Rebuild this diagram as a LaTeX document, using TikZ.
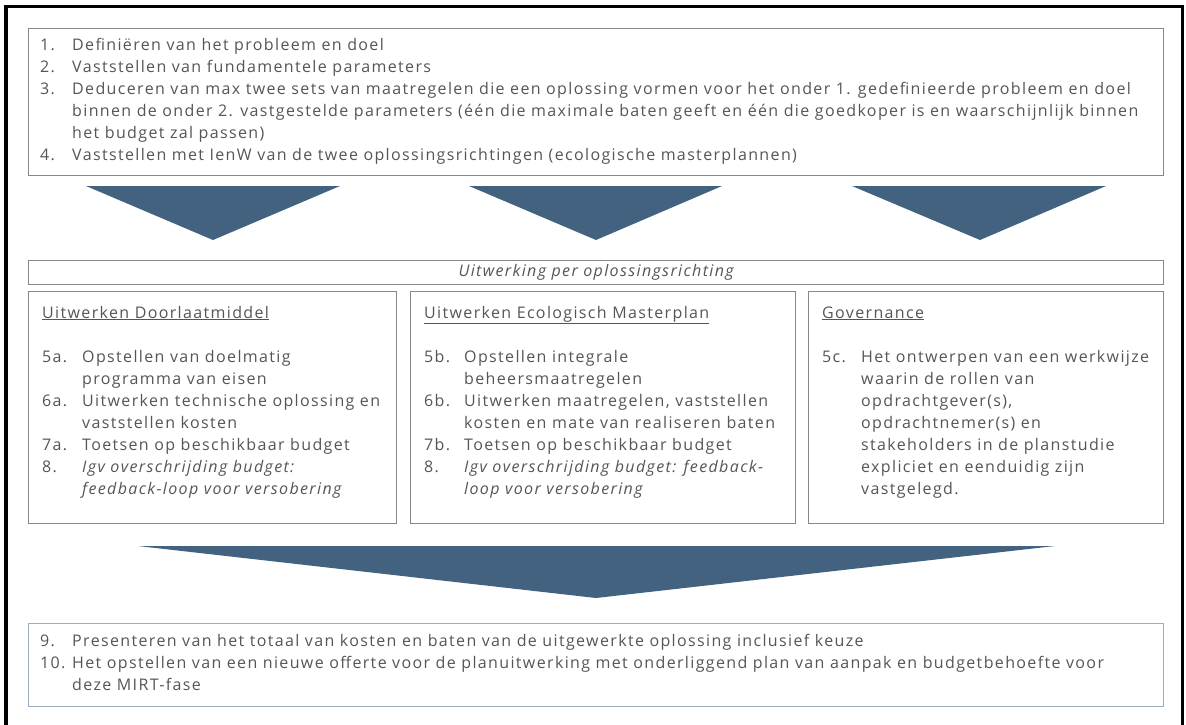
\documentclass[tikz,border=0pt]{standalone}
\usepackage{fontspec}
\setmainfont{Open Sans}[LetterSpace=8.5]
\usepackage{array}
\definecolor{txt}{HTML}{555555}
\definecolor{arr}{RGB}{66,98,128}
\definecolor{bord}{HTML}{888888}
\definecolor{bbord}{HTML}{9AAFC2}
\begin{document}
\begin{tikzpicture}[x=1pt,y=-1pt,
  box/.style={draw=bord, line width=1.3pt, anchor=north west, inner sep=0pt},
  bbox/.style={box, draw=bbord},
  txtnode/.style={anchor=base west, inner sep=0pt, text=txt, font=\fontsize{16}{22}\selectfont},
  chev/.style={fill=arr}]
\useasboundingbox (0,0) rectangle (1186,724);
\begin{scope}
\clip (0,0) rectangle (1186,724);
\draw[line width=3.5pt] (6,6.5) rectangle (1182.5,735);
\end{scope}
% top box
\node[box, minimum width=1135pt, minimum height=147pt] (top) at (28,28) {};
\node[txtnode] (toptext) at (40,50) {\begin{tabular}[t]{@{}p{32pt}@{}l@{}}
1. & Definiëren van het probleem en doel\\
2. & Vaststellen van fundamentele parameters\\
3. & Deduceren van max twee sets van maatregelen die een oplossing vormen voor het onder 1. gedefinieerde probleem en doel\\
 & binnen de onder 2. vastgestelde parameters (één die maximale baten geeft en één die goedkoper is en waarschijnlijk binnen\\
 & het budget zal passen)\\
4. & Vaststellen met IenW van de twee oplossingsrichtingen (ecologische masterplannen)
\end{tabular}};
% chevrons
\fill[chev] (86,186) -- (340,186) -- (213,240) -- cycle;
\fill[chev] (469,186) -- (722,186) -- (596,240) -- cycle;
\fill[chev] (852,186) -- (1106,186) -- (980,240) -- cycle;
% band
\node[box, minimum width=1135pt, minimum height=24pt] (band) at (28,260) {};
\node[anchor=center, inner sep=0pt, text=txt, font=\fontsize{16}{22}\selectfont\itshape] (bandtext) at (band.center) {Uitwerking per oplossingsrichting};
% three boxes
\node[box, minimum width=368pt, minimum height=232pt] (b1) at (28,291) {};
\node[box, minimum width=385pt, minimum height=232pt] (b2) at (410,291) {};
\node[box, minimum width=355pt, minimum height=232pt] (b3) at (808,291) {};
\node[txtnode] (t1) at (42,318) {\begin{tabular}[t]{@{}p{40pt}@{}l@{}}
\multicolumn{2}{@{}l@{}}{\underline{Uitwerken Doorlaatmiddel}}\\
 & \\
5a. & Opstellen van doelmatig\\
 & programma van eisen\\
6a. & Uitwerken technische oplossing en\\
 & vaststellen kosten\\
7a. & Toetsen op beschikbaar budget\\
8. & \textit{Igv overschrijding budget:}\\
 & \textit{feedback-loop voor versobering}
\end{tabular}};
\node[txtnode] (t2) at (424,318) {\begin{tabular}[t]{@{}p{40pt}@{}l@{}}
\multicolumn{2}{@{}l@{}}{\underline{Uitwerken Ecologisch Masterplan}}\\
 & \\
5b. & Opstellen integrale\\
 & beheersmaatregelen\\
6b. & Uitwerken maatregelen, vaststellen\\
 & kosten en mate van realiseren baten\\
7b. & Toetsen op beschikbaar budget\\
8. & \textit{Igv overschrijding budget: feedback-}\\
 & \textit{loop voor versobering}
\end{tabular}};
\node[txtnode] (t3) at (822,318) {\begin{tabular}[t]{@{}p{39pt}@{}l@{}}
\multicolumn{2}{@{}l@{}}{\underline{Governance}}\\
 & \\
5c. & Het ontwerpen van een werkwijze\\
 & waarin de rollen van\\
 & opdrachtgever(s),\\
 & opdrachtnemer(s) en\\
 & stakeholders in de planstudie\\
 & expliciet en eenduidig zijn\\
 & vastgelegd.
\end{tabular}};
% big chevron
\fill[chev] (138,546) -- (1055,546) -- (596,598) -- cycle;
% bottom box
\node[bbox, minimum width=1135pt, minimum height=83pt] (bot) at (28,623) {};
\node[txtnode] (bottext) at (40,646) {\begin{tabular}[t]{@{}p{32pt}@{}l@{}}
9. & Presenteren van het totaal van kosten en baten van de uitgewerkte oplossing inclusief keuze\\
10. & Het opstellen van een nieuwe offerte voor de planuitwerking met onderliggend plan van aanpak en budgetbehoefte voor\\
 & deze MIRT-fase
\end{tabular}};
\end{tikzpicture}
\end{document}
